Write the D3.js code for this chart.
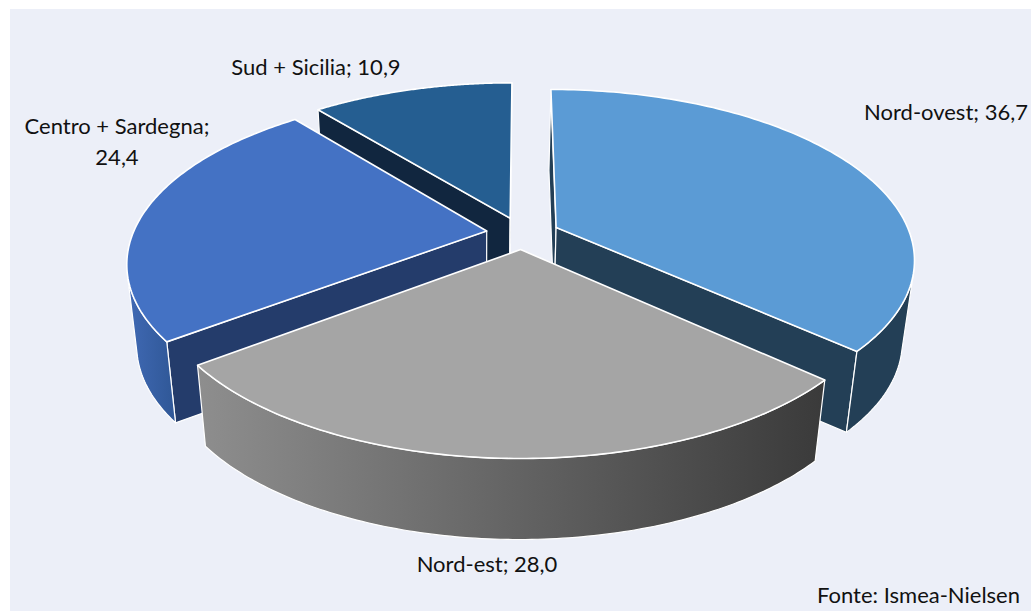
<!DOCTYPE html>
<html>
<head>
<meta charset="utf-8">
<script src="https://cdn.jsdelivr.net/npm/d3@7"></script>
<style>
  html, body { margin: 0; padding: 0; background: #fff; }
  svg { display: block; }
  text { font-family: Lato, "Open Sans", sans-serif; fill: #111; }
</style>
</head>
<body>
<div id="chart"></div>
<script>
const categories = ["Nord-ovest", "Nord-est", "Centro + Sardegna", "Sud + Sicilia"];
const values = [36.7, 28.0, 24.4, 10.9];
const topColors = ["#5B9BD5", "#A5A5A5", "#4472C4", "#255E91"];
const wallColors = ["#233F56", "#8C8C8C", "#243C6B", "#11263F"];
const rimColors = [["#233F56", "#233F56"], ["#8E8E8E", "#3A3A3A"], ["#4069B4", "#2F5796"], ["#11263F", "#11263F"]];
// how far each slice is pulled out of the pie, in disc radii
const explodeX = [0.097, -0.004, -0.1, -0.034];
const explodeY = [-0.04, 0.093, -0.018, -0.097];

const width = 1031;
const height = 611;
const cx = 522;
const cy = 234;
const rx = 354;
const ry = 165;
const persp = 0.18; // nearer points get bigger
const depth = 81;
const taper = 0.972; // bottom of the pie is slightly narrower
const vanishX = 480; // and shrinks toward this x

const svg = d3
  .select("#chart")
  .append("svg")
  .attr("width", width)
  .attr("height", height);

svg
  .append("rect")
  .attr("x", 10)
  .attr("y", 9)
  .attr("width", width - 10)
  .attr("height", height - 9)
  .attr("fill", "#ECEFF8");

const defs = svg.append("defs");

// project a point of the disc, dz = 0 top face, dz = 1 bottom face
const project = (X, Y, dz) => {
  const w = 1 - persp * Y;
  const x = cx + (rx * X) / w;
  return [dz ? vanishX + (x - vanishX) * taper : x, cy + (ry * Y) / w + dz * depth];
};

const line = d3.line();

const pie = d3.pie().sort(null);
const slices = pie(values).map((d, i) => {
  const ex = explodeX[i];
  const ey = explodeY[i];
  const steps = d3.range(0, 121).map((k) => d.startAngle + ((d.endAngle - d.startAngle) * k) / 120);
  const edge = (a, dz) => project(ex + Math.sin(a), ey - Math.cos(a), dz);
  return {
    i,
    tipTop: project(ex, ey, 0),
    tipBottom: project(ex, ey, 1),
    arcTop: steps.map((a) => edge(a, 0)),
    arcBottom: steps.map((a) => edge(a, 1)),
  };
});

// back to front
const order = [3, 0, 2, 1];

const g = svg.append("g");

order.forEach((idx) => {
  const s = slices[idx];
  const n = s.arcTop.length - 1;
  const slice = g.append("g").attr("class", "slice");

  // radial walls, only those turned toward the viewer
  const walls = [
    { pts: [s.tipTop, s.arcTop[0], s.arcBottom[0], s.tipBottom], sign: 1 },
    { pts: [s.tipTop, s.arcTop[n], s.arcBottom[n], s.tipBottom], sign: -1 },
  ].filter((w) => d3.polygonArea(w.pts) * w.sign > 0);
  slice
    .selectAll(".wall")
    .data(walls)
    .join("path")
    .attr("class", "wall")
    .attr("d", (d) => line(d.pts) + "Z")
    .attr("fill", wallColors[idx])
    .attr("stroke", "#fff")
    .attr("stroke-width", 1.2)
    .attr("stroke-linejoin", "round");

  // outer rim, only the stretch of the arc that faces the viewer
  const front = d3.range(n + 1).filter((j) => {
    const k = j < n ? j : j - 1;
    return d3.polygonArea([s.arcTop[k], s.arcTop[k + 1], s.arcBottom[k + 1], s.arcBottom[k]]) > 0;
  });
  if (front.length > 1) {
    const rimTop = front.map((j) => s.arcTop[j]);
    const rimBottom = front.map((j) => s.arcBottom[j]);
    const xs = d3.extent(rimTop.concat(rimBottom), (p) => p[0]);
    const grad = defs
      .append("linearGradient")
      .attr("id", "rim" + idx)
      .attr("gradientUnits", "userSpaceOnUse")
      .attr("x1", xs[0])
      .attr("x2", xs[1])
      .attr("y1", 0)
      .attr("y2", 0);
    grad.append("stop").attr("offset", 0).attr("stop-color", rimColors[idx][0]);
    grad.append("stop").attr("offset", 1).attr("stop-color", rimColors[idx][1]);

    slice
      .append("path")
      .attr("d", line(rimTop.concat(rimBottom.reverse())) + "Z")
      .attr("fill", "url(#rim" + idx + ")")
      .attr("stroke", "#fff")
      .attr("stroke-width", 1.2)
      .attr("stroke-linejoin", "round");
  }

  // top face
  slice
    .append("path")
    .attr("d", line([s.tipTop].concat(s.arcTop)) + "Z")
    .attr("fill", topColors[idx])
    .attr("stroke", "#fff")
    .attr("stroke-width", 1.6)
    .attr("stroke-linejoin", "round");
});

// labels
const fmt = (v) => v.toFixed(1).replace(".", ",");
const labelLines = [
  [categories[0] + "; " + fmt(values[0])],
  [categories[1] + "; " + fmt(values[1])],
  [categories[2] + ";", fmt(values[2])],
  [categories[3] + "; " + fmt(values[3])],
];
const labelX = [946, 487, 117, 316];
const labelY = [120, 572, 134, 75];

svg
  .selectAll(".label")
  .data(labelLines)
  .join("text")
  .attr("class", "label")
  .attr("text-anchor", "middle")
  .attr("font-size", 22)
  .attr("x", (d, i) => labelX[i])
  .attr("y", (d, i) => labelY[i])
  .selectAll("tspan")
  .data((d, i) => d.map((t) => ({ t, i })))
  .join("tspan")
  .attr("x", (d) => labelX[d.i])
  .attr("dy", (d, k) => (k ? 31 : 0))
  .text((d) => d.t);

svg
  .append("text")
  .attr("x", 1020)
  .attr("y", 603)
  .attr("text-anchor", "end")
  .attr("font-size", 22)
  .text("Fonte: Ismea-Nielsen");
</script>
</body>
</html>
